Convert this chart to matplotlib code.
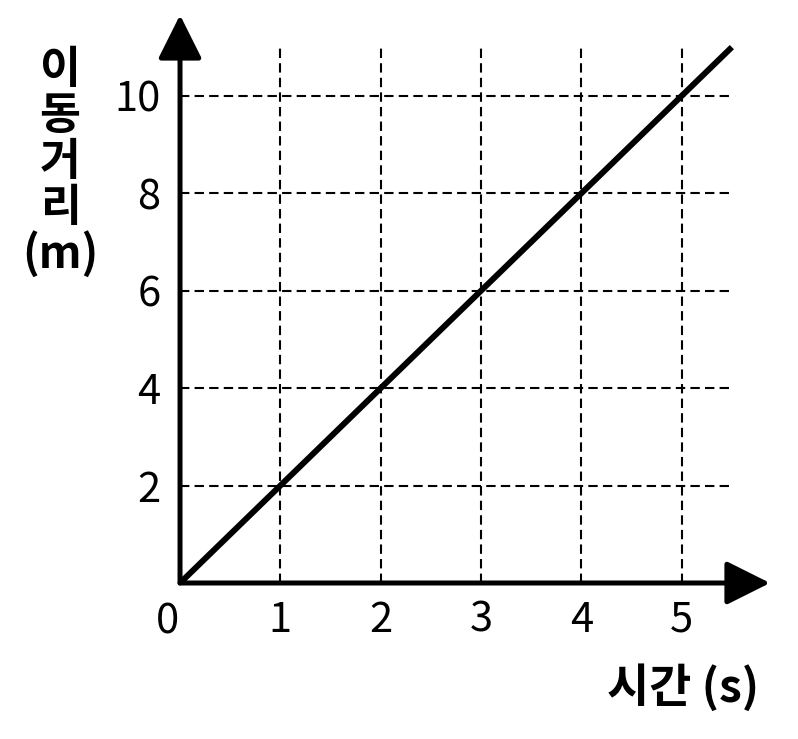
import matplotlib.pyplot as plt

# 시간-이동거리 데이터
time_s = [0, 1, 2, 3, 4, 5, 5.5]
distance_m = [0, 2, 4, 6, 8, 10, 11.0]
x_ticks = [1, 2, 3, 4, 5]
y_ticks = [2, 4, 6, 8, 10]

plt.rcParams['font.family'] = ['Noto Sans CJK KR', 'DejaVu Sans']

fig = plt.figure(figsize=(7.98, 7.39), dpi=100)
ax = fig.add_axes([0.2256, 0.2111, 0.7393, 0.7686])
ax.set_xlim(0, 5.88)
ax.set_ylim(0, 11.66)

# 점선 격자 (화살표 끝까지는 그리지 않음)
dash = (0, (4.5, 2.5))
ax.hlines(y_ticks, 0, 5.5, colors='black', linestyles=dash, lw=1.5)
ax.vlines(x_ticks, 0, 11.0, colors='black', linestyles=dash, lw=1.5)

# 그래프
ax.plot(time_s, distance_m, color='black', lw=4.3, solid_capstyle='butt', clip_on=False)

# 축 화살표
for xy in [(1, 0), (0, 1)]:
    ax.annotate('', xy=xy, xytext=(0, 0), xycoords='axes fraction',
                arrowprops=dict(arrowstyle='-|>,head_length=0.9,head_width=0.45',
                                color='black', lw=3.6, mutation_scale=30,
                                shrinkA=0, shrinkB=0))

for s in ax.spines.values():
    s.set_visible(False)

ax.set_xticks(x_ticks)
ax.set_yticks(y_ticks)
ax.tick_params(length=0, labelsize=30)
ax.tick_params(axis='x', pad=12)
ax.tick_params(axis='y', pad=14)
ax.text(-0.13, -0.8, '0', fontsize=30, ha='center', va='center')

# 축 제목
fig.text(60 / 798, 1 - 162 / 739, '이\n동\n거\n리\n(m)', fontsize=32, fontweight='bold',
         ha='center', va='center', linespacing=1.0)
fig.text(683 / 798, 1 - 688 / 739, '시간 (s)', fontsize=33, fontweight='bold',
         ha='center', va='center')

fig.savefig('out.png', dpi=100)
